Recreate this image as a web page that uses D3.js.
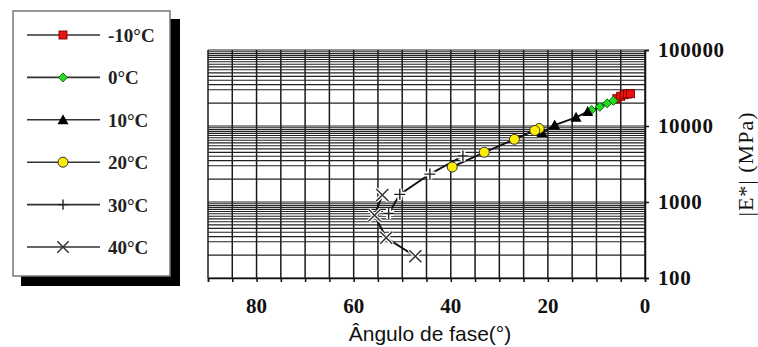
<!DOCTYPE html>
<html><head><meta charset="utf-8">
<script src="https://cdn.jsdelivr.net/npm/d3@7"></script>
<style>body{margin:0;background:#fff}svg{display:block}</style>
</head><body>
<svg id="c" width="758" height="347"></svg>
<script>
const seriesNames = ["-10°C","0°C","10°C","20°C","30°C","40°C"];
const phaseM10 = [5.8,5.0,4.3,3.6,3.0];
const modM10   = [22900,24600,25800,26400,26600];
const phase0   = [11.0,9.3,7.8,6.5];
const mod0     = [16200,17900,19900,21500];
const phase10  = [11.8,14.2,18.6,21.2];
const mod10    = [15500,13000,10300,8200];
const phase20  = [21.8,22.7,26.9,33.1,39.7];
const mod20    = [9270,8730,6680,4510,2890];
const phase30  = [37.5,44.3,50.5,52.8];
const mod30    = [4030,2330,1260,706];
const phase40  = [54.1,55.7,53.3,47.3];
const mod40    = [1236,668,338,193];
const xTicks = [80,60,40,20,0];
const yTicks = [100,1000,10000,100000];

const svg = d3.select("#c");
const x = d3.scaleLinear().domain([90,0]).range([208,645]);
const y = d3.scaleLog().domain([100,100000]).range([278,50]);

// grid
const g = svg.append("g");
const vlines = d3.range(0,91,5);
g.selectAll(".v").data(vlines).enter().append("line")
  .attr("x1",d=>x(d)).attr("x2",d=>x(d)).attr("y1",y(100000)).attr("y2",y(100))
  .attr("stroke","#1a1a1a").attr("stroke-width",1.5);
const mult = [1,2,3,3.5,4,4.5,5,5.5,6,6.5,7,7.5,8,8.5,9,9.5];
const hvals = [];
[100,1000,10000].forEach(dec=>mult.forEach(m=>hvals.push(dec*m)));
hvals.push(100000);
g.selectAll(".h").data(hvals).enter().append("line")
  .attr("x1",x(90)).attr("x2",x(0)).attr("y1",d=>y(d)).attr("y2",d=>y(d))
  .attr("stroke","#222").attr("stroke-width",1.1);

// axes
const xAxis = d3.axisBottom(x).tickValues(vlines).tickSize(4).tickFormat("");
svg.append("g").attr("transform",`translate(0,${y(100)})`).call(xAxis)
  .call(a=>a.selectAll("path,line").attr("stroke","#111").attr("stroke-width",1.5));
const yAxis = d3.axisRight(y).tickValues(yTicks).tickSize(4).tickFormat("");
svg.append("g").attr("transform",`translate(${x(0)},0)`).call(yAxis)
  .call(a=>a.selectAll("path,line").attr("stroke","#111").attr("stroke-width",1.5));

svg.append("g").selectAll("text").data(xTicks).enter().append("text")
  .attr("x",d=>x(d)).attr("y",313).attr("text-anchor","middle")
  .attr("font-family","Liberation Serif").attr("font-weight","bold").attr("font-size",21)
  .attr("fill","#111").text(d=>d);
svg.append("g").selectAll("text").data(yTicks).enter().append("text")
  .attr("x",658).attr("y",d=>y(d)+7).attr("text-anchor","start")
  .attr("font-family","Liberation Serif").attr("font-weight","bold").attr("font-size",21)
  .attr("letter-spacing",0.6)
  .attr("fill","#111").text(d=>d);

svg.append("text").attr("x",430).attr("y",341).attr("text-anchor","middle")
  .attr("font-family","Liberation Sans").attr("font-size",21).attr("fill","#111")
  .text("Ângulo de fase(°)");
svg.append("text").attr("transform","translate(753,164) rotate(-90)").attr("text-anchor","middle")
  .attr("font-family","Liberation Serif").attr("font-size",22).attr("letter-spacing",1)
  .attr("fill","#111")
  .text("|E*| (MPa)");

// series
const series = [
  {name:seriesNames[0], ph:phaseM10, e:modM10, m:"square"},
  {name:seriesNames[1], ph:phase0, e:mod0, m:"diamond"},
  {name:seriesNames[2], ph:phase10, e:mod10, m:"triangle"},
  {name:seriesNames[3], ph:phase20, e:mod20, m:"circle"},
  {name:seriesNames[4], ph:phase30, e:mod30, m:"plus"},
  {name:seriesNames[5], ph:phase40, e:mod40, m:"cross"}
];
function drawMarker(sel, type, cx, cy, scale){
  const s = scale||1;
  if(type==="square"){
    sel.append("rect").attr("x",cx-4*s).attr("y",cy-4*s).attr("width",8*s).attr("height",8*s)
      .attr("fill","#ee1111").attr("stroke","#700").attr("stroke-width",0.9);
  } else if(type==="diamond"){
    sel.append("path").attr("d",`M${cx},${cy-4.5*s}L${cx+4.5*s},${cy}L${cx},${cy+4.5*s}L${cx-4.5*s},${cy}Z`)
      .attr("fill","#22dd22").attr("stroke","#075c07").attr("stroke-width",0.9);
  } else if(type==="triangle"){
    sel.append("path").attr("d",`M${cx},${cy-5.5*s}L${cx+5.5*s},${cy+4.5*s}L${cx-5.5*s},${cy+4.5*s}Z`)
      .attr("fill","#000");
  } else if(type==="circle"){
    sel.append("circle").attr("cx",cx).attr("cy",cy).attr("r",5*s)
      .attr("fill","#ffee00").attr("stroke","#333").attr("stroke-width",1);
  } else if(type==="plus"){
    const p=`M${cx-5.5*s},${cy}H${cx+5.5*s}M${cx},${cy-5.5*s}V${cy+5.5*s}`;
    if(!scale) sel.append("path").attr("d",p).attr("stroke","#fff").attr("stroke-width",5);
    sel.append("path").attr("d",p).attr("stroke","#222").attr("stroke-width",1.4);
  } else if(type==="cross"){
    const p=`M${cx-6*s},${cy-6*s}L${cx+6*s},${cy+6*s}M${cx-6*s},${cy+6*s}L${cx+6*s},${cy-6*s}`;
    if(!scale) sel.append("path").attr("d",p).attr("stroke","#fff").attr("stroke-width",4);
    sel.append("path").attr("d",p).attr("stroke","#333").attr("stroke-width",1.5);
  }
}
const line = d3.line().x(d=>x(d[0])).y(d=>y(d[1]));
const plot = svg.append("g");
series.forEach(s=>{
  const pts = s.ph.map((p,i)=>[p,s.e[i]]);
  plot.append("path").attr("d",line(pts)).attr("fill","none").attr("stroke","#111").attr("stroke-width",1.9);
});
series.forEach(s=>{
  s.ph.forEach((p,i)=>drawMarker(plot, s.m, x(p), y(s.e[i])));
});

// legend
const lg = svg.append("g");
lg.append("rect").attr("x",21).attr("y",19).attr("width",159).attr("height",267).attr("fill","#000");
lg.append("rect").attr("x",13).attr("y",11).attr("width",157).attr("height",265)
  .attr("fill","#fff").attr("stroke","#777").attr("stroke-width",1.5);
const rowY = d3.scaleLinear().domain([0,5]).range([35,247]);
series.forEach((s,i)=>{
  const yy = rowY(i);
  lg.append("line").attr("x1",27).attr("x2",100).attr("y1",yy).attr("y2",yy)
    .attr("stroke","#333").attr("stroke-width",1.6);
  drawMarker(lg, s.m, 63, yy, s.m==="plus"||s.m==="cross"?0.95:1);
  lg.append("text").attr("x",108).attr("y",yy+7)
    .attr("font-family","Liberation Serif").attr("font-weight","bold").attr("font-size",19)
    .attr("fill","#222").text(s.name);
});
</script>
</body></html>
